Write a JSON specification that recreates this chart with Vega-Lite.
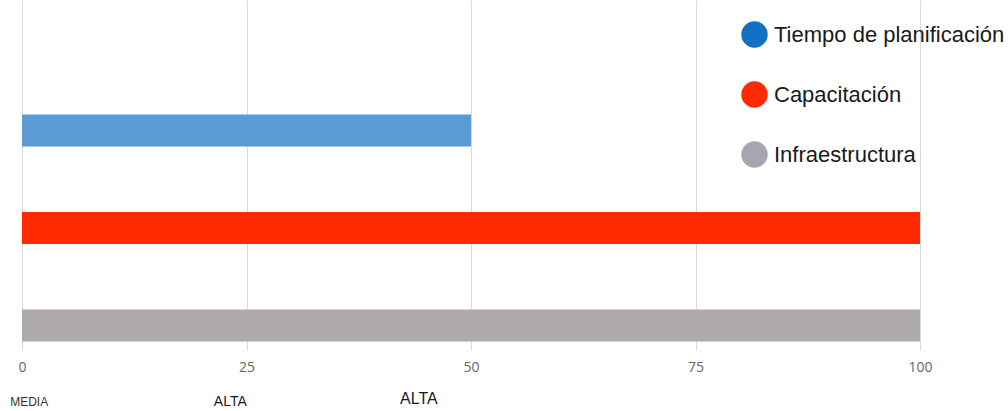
{
  "$schema": "https://vega.github.io/schema/vega-lite/v6.json",
  "width": 898,
  "height": 345,
  "autosize": {"type": "none"},
  "padding": {"left": 22, "top": 0, "right": 88, "bottom": 66},
  "background": "white",
  "config": {"view": {"stroke": null}},
  "datasets": {
    "bars": [
      {"categoria": "Tiempo de planificación", "valor": 50},
      {"categoria": "Capacitación", "valor": 100},
      {"categoria": "Infraestructura", "valor": 100}
    ],
    "notas": [
      {"texto": "MEDIA", "pos": 0.8, "id": 1},
      {"texto": "ALTA", "pos": 23.2, "id": 2},
      {"texto": "ALTA", "pos": 44.2, "id": 3}
    ]
  },
  "resolve": {"scale": {"color": "independent"}},
  "layer": [
    {
      "data": {"name": "bars"},
      "mark": {"type": "bar"},
      "encoding": {
        "y": {
          "field": "categoria",
          "type": "nominal",
          "sort": ["Tiempo de planificación", "Capacitación", "Infraestructura"],
          "scale": {"paddingInner": 0.672, "paddingOuter": 0.605, "align": 0.97},
          "axis": null
        },
        "x": {
          "field": "valor",
          "type": "quantitative",
          "scale": {"domain": [0, 100], "nice": false},
          "axis": {
            "values": [0, 25, 50, 75, 100],
            "grid": true,
            "gridColor": "#d9d9d9",
            "gridWidth": 1,
            "domain": false,
            "ticks": true,
            "tickSize": 5,
            "tickColor": "#d9d9d9",
            "labelFont": "Open Sans",
            "labelFontSize": 14,
            "labelColor": "#666666",
            "labelPadding": 10,
            "labelFlush": false,
            "title": null
          }
        },
        "color": {
          "field": "categoria",
          "type": "nominal",
          "scale": {
            "domain": ["Tiempo de planificación", "Capacitación", "Infraestructura"],
            "range": ["#5b9bd5", "#ff2a00", "#aeaaaa"]
          },
          "legend": null
        }
      }
    },
    {
      "data": {"name": "bars"},
      "mark": {"type": "point", "filled": true, "opacity": 0},
      "encoding": {
        "y": {
          "field": "categoria",
          "type": "nominal",
          "sort": ["Tiempo de planificación", "Capacitación", "Infraestructura"]
        },
        "x": {"field": "valor", "type": "quantitative"},
        "color": {
          "field": "categoria",
          "type": "nominal",
          "scale": {
            "domain": ["Tiempo de planificación", "Capacitación", "Infraestructura"],
            "range": ["#1270c0", "#ff2a00", "#a6a6b0"]
          },
          "legend": {
            "orient": "none",
            "legendX": 719,
            "legendY": 21,
            "title": null,
            "symbolType": "circle",
            "symbolSize": 700,
            "symbolStrokeWidth": 0,
            "symbolOpacity": 1,
            "labelFont": "Liberation Sans",
            "labelFontSize": 22,
            "labelColor": "#1a1a1a",
            "labelOffset": 6,
            "labelLimit": 300,
            "rowPadding": 33,
            "labelExpr": "datum.label === 'Capacitación' ? '\u2002Capacitación' : datum.label"
          }
        }
      }
    },
    {
      "data": {"name": "notas"},
      "transform": [{"filter": "datum.id === 1"}],
      "mark": {"type": "text", "font": "Liberation Sans", "fontSize": 12, "color": "#333333", "baseline": "middle", "dy": 57},
      "encoding": {
        "x": {"field": "pos", "type": "quantitative"},
        "y": {"value": {"expr": "height"}},
        "text": {"field": "texto"}
      }
    },
    {
      "data": {"name": "notas"},
      "transform": [{"filter": "datum.id === 2"}],
      "mark": {"type": "text", "font": "Liberation Sans", "fontSize": 14, "color": "#1a1a1a", "baseline": "middle", "dy": 57},
      "encoding": {
        "x": {"field": "pos", "type": "quantitative"},
        "y": {"value": {"expr": "height"}},
        "text": {"field": "texto"}
      }
    },
    {
      "data": {"name": "notas"},
      "transform": [{"filter": "datum.id === 3"}],
      "mark": {"type": "text", "font": "Liberation Sans", "fontSize": 16, "color": "#1a1a1a", "baseline": "middle", "dy": 54},
      "encoding": {
        "x": {"field": "pos", "type": "quantitative"},
        "y": {"value": {"expr": "height"}},
        "text": {"field": "texto"}
      }
    }
  ]
}
